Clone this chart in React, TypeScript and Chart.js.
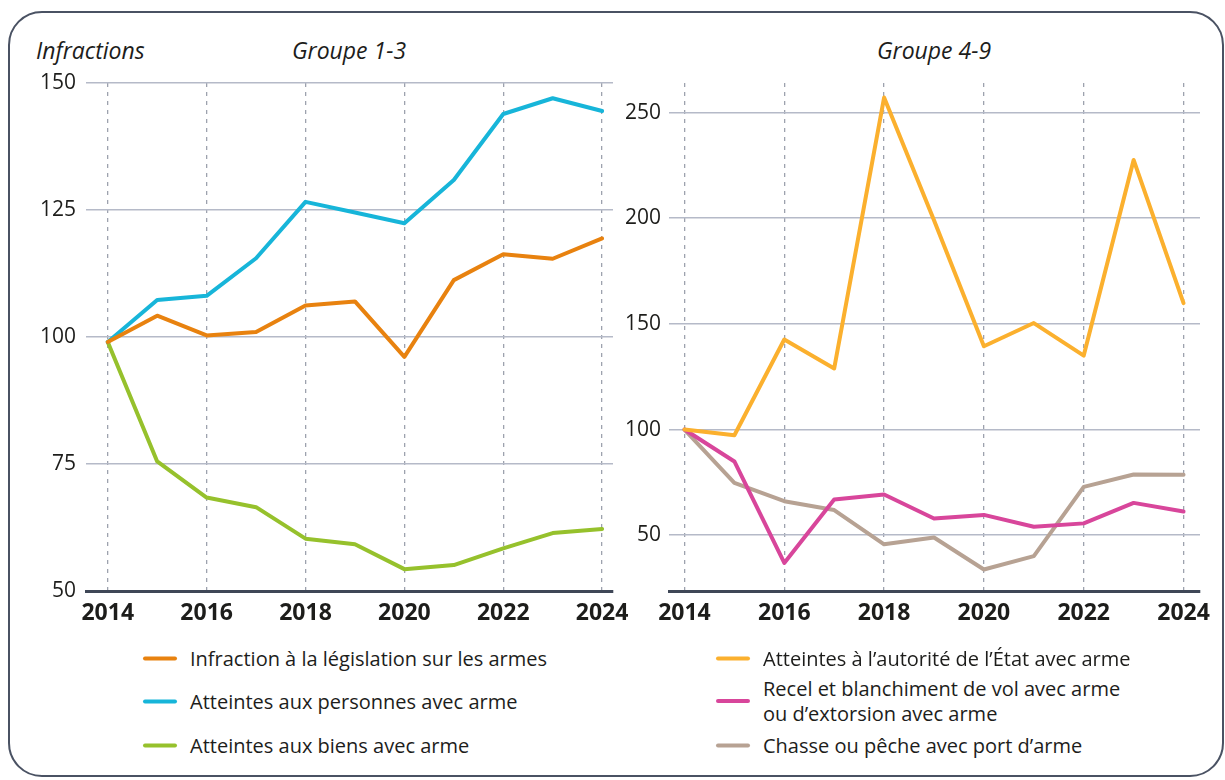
import React, { useEffect, useRef } from "react";
import { Chart, registerables } from "chart.js";
Chart.register(...registerables);

const years = [2014, 2015, 2016, 2017, 2018, 2019, 2020, 2021, 2022, 2023, 2024];
const xTicks = [2014, 2016, 2018, 2020, 2022, 2024];
const leftYTicks = [50, 75, 100, 125, 150];
const rightYTicks = [50, 100, 150, 200, 250];

const leftTitle = "Groupe 1-3";
const rightTitle = "Groupe 4-9";
const yAxisTitle = "Infractions";

const infractionLegislation = [99, 104.2, 100.3, 101, 106.2, 107, 96.1, 111.2, 116.3, 115.4, 119.4];
const atteintesPersonnes = [99, 107.3, 108.1, 115.5, 126.6, 124.5, 122.4, 130.9, 143.9, 147, 144.5];
const atteintesBiens = [99, 75.5, 68.4, 66.5, 60.3, 59.2, 54.3, 55.1, 58.4, 61.4, 62.2];

const atteintesEtat = [100, 97.3, 142.6, 128.9, 257.1, 199, 139.4, 150.4, 135, 227.6, 159.8];
const recelBlanchiment = [100, 84.9, 36.9, 66.9, 69.3, 57.9, 59.6, 54, 55.6, 65.3, 61.2];
const chassePeche = [100, 74.8, 66.1, 61.9, 45.7, 48.9, 33.8, 40.1, 72.9, 78.7, 78.6];

const leftSeries = [
  { name: "Infraction à la législation sur les armes", values: infractionLegislation, color: "#e8820f" },
  { name: "Atteintes aux personnes avec arme", values: atteintesPersonnes, color: "#17b5d9" },
  { name: "Atteintes aux biens avec arme", values: atteintesBiens, color: "#96c12c" },
];
const rightSeries = [
  { name: "Atteintes à l’autorité de l’État avec arme", values: atteintesEtat, color: "#fbb02e" },
  { name: "Recel et blanchiment de vol avec arme\nou d’extorsion avec arme", values: recelBlanchiment, color: "#d8469b" },
  { name: "Chasse ou pêche avec port d’arme", values: chassePeche, color: "#b7a293" },
];

const FONT = "'Open Sans', 'Noto Sans', sans-serif";
const TEXT = "#1d1d1b";
const GRID = "#b5bac8";
const DASH = "#9da2ae";
const AXIS = "#3f4757";

type Series = { name: string; values: number[]; color: string };

function buildConfig(
  series: Series[],
  o: { xMin: number; xMax: number; yMin: number; yMax: number; yTicks: number[]; yWidth: number; padRight: number; yPad: number }
): any {
  return {
    type: "line",
    data: {
      datasets: series.map((s) => ({
        label: s.name,
        data: years.map((x, i) => ({ x, y: s.values[i] })),
        borderColor: s.color,
        backgroundColor: s.color,
        borderWidth: 4,
        pointRadius: 0,
        tension: 0,
        fill: false,
        borderCapStyle: "round",
        borderJoinStyle: "round",
      })),
    },
    options: {
      responsive: false,
      animation: false,
      devicePixelRatio: 1,
      layout: { padding: { top: 13, right: o.padRight, left: 0, bottom: 0 } },
      plugins: { legend: { display: false }, tooltip: { enabled: false }, title: { display: false } },
      scales: {
        x: {
          type: "linear",
          min: o.xMin,
          max: o.xMax,
          afterBuildTicks: (s: any) => {
            s.ticks = xTicks.map((v) => ({ value: v }));
          },
          afterFit: (s: any) => {
            s.height = 49;
            s.paddingLeft = 0;
            s.paddingRight = 0;
          },
          grid: { color: DASH, lineWidth: 1.3, drawTicks: false },
          border: { display: true, color: AXIS, width: 3, dash: [4, 5] },
          ticks: {
            autoSkip: false,
            maxRotation: 0,
            padding: 9,
            color: TEXT,
            font: { family: FONT, size: 23, weight: "bold" },
            callback: (v: any) => String(v),
          },
        },
        y: {
          type: "linear",
          min: o.yMin,
          max: o.yMax,
          afterBuildTicks: (s: any) => {
            s.ticks = o.yTicks.map((v) => ({ value: v }));
          },
          afterFit: (s: any) => {
            s.width = o.yWidth;
            s.paddingTop = 0;
            s.paddingBottom = 0;
          },
          grid: { color: GRID, lineWidth: 1.6, drawTicks: false },
          border: { display: false },
          ticks: {
            padding: o.yPad,
            color: TEXT,
            font: { family: FONT, size: 21 },
            callback: (v: any) => String(v),
          },
        },
      },
    },
  };
}

function ChartCanvas(props: { series: Series[]; cfg: any; left: number; top: number; width: number; height: number }) {
  const ref = useRef<HTMLCanvasElement | null>(null);
  useEffect(() => {
    if (!ref.current) return;
    const chart = new Chart(ref.current, buildConfig(props.series, props.cfg));
    return () => chart.destroy();
  }, []);
  return (
    <canvas
      ref={ref}
      width={props.width}
      height={props.height}
      style={{ position: "absolute", left: props.left, top: props.top, width: props.width, height: props.height }}
    />
  );
}

function LegendItem(props: { s: Series; left: number; top: number }) {
  const lines = props.s.name.split("\n");
  return (
    <div style={{ position: "absolute", left: props.left, top: props.top, transform: "translateY(-50%)", display: "flex", alignItems: "center" }}>
      <div style={{ width: 34, height: 4, borderRadius: 2, background: props.s.color, marginRight: 13 }} />
      <div style={{ fontFamily: FONT, fontSize: 20, color: TEXT, lineHeight: "25px", whiteSpace: "nowrap" }}>
        {lines.map((l, i) => (
          <div key={i}>{l}</div>
        ))}
      </div>
    </div>
  );
}

export default function App() {
  const titleStyle: React.CSSProperties = {
    position: "absolute",
    fontFamily: FONT,
    fontStyle: "italic",
    fontSize: 23,
    color: TEXT,
    top: 50,
    transform: "translateY(-50%)",
    whiteSpace: "nowrap",
  };
  return (
    <div style={{ position: "absolute", left: 0, top: 0, width: 1225, height: 780, overflow: "hidden", background: "#fff" }}>
      <div
        style={{
          position: "absolute",
          left: 8,
          top: 11,
          width: 1216,
          height: 766,
          boxSizing: "border-box",
          border: "2px solid #4a5263",
          borderRadius: 34,
        }}
      />
      <div style={{ ...titleStyle, left: 36 }}>{yAxisTitle}</div>
      <div style={{ ...titleStyle, left: 349, transform: "translate(-50%, -50%)" }}>{leftTitle}</div>
      <div style={{ ...titleStyle, left: 934, transform: "translate(-50%, -50%)" }}>{rightTitle}</div>
      <ChartCanvas
        series={leftSeries}
        left={0}
        top={70}
        width={640}
        height={570}
        cfg={{ xMin: 2013.56, xMax: 2024.22, yMin: 50, yMax: 150, yTicks: leftYTicks, yWidth: 86, padRight: 27, yPad: 10 }}
      />
      <ChartCanvas
        series={rightSeries}
        left={620}
        top={70}
        width={605}
        height={570}
        cfg={{ xMin: 2013.69, xMax: 2024.33, yMin: 23.6, yMax: 264, yTicks: rightYTicks, yWidth: 49, padRight: 25, yPad: 8 }}
      />
      <LegendItem s={leftSeries[0]} left={143} top={658} />
      <LegendItem s={leftSeries[1]} left={143} top={701} />
      <LegendItem s={leftSeries[2]} left={143} top={745} />
      <LegendItem s={rightSeries[0]} left={716} top={658} />
      <LegendItem s={rightSeries[1]} left={716} top={701} />
      <LegendItem s={rightSeries[2]} left={716} top={745} />
    </div>
  );
}
